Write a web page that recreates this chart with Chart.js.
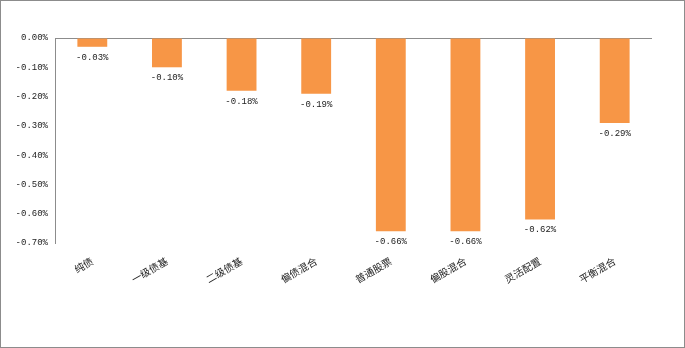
<!DOCTYPE html>
<html><head><meta charset="utf-8">
<script src="https://cdn.jsdelivr.net/npm/chart.js@4"></script>
<style>
html,body{margin:0;padding:0;background:#fff;}
#wrap{width:685px;height:348px;box-sizing:border-box;border:1px solid #8c8c8c;position:relative;}
canvas{display:block;}
</style></head>
<body><div id="wrap"><canvas id="c" width="683" height="346"></canvas></div>
<script>
const categories = ["纯债","一级债基","二级债基","偏债混合","普通股票","偏股混合","灵活配置","平衡混合"];
const values = [-0.03,-0.10,-0.18,-0.19,-0.66,-0.66,-0.62,-0.29];
const yTicks = [0,-0.1,-0.2,-0.3,-0.4,-0.5,-0.6,-0.7];

const numFont = {family:"'Liberation Mono','DejaVu Sans Mono',monospace", size:9};
const labelPlugin = {
  id:'vlabels',
  afterDatasetsDraw(chart){
    const ctx = chart.ctx;
    const meta = chart.getDatasetMeta(0);
    ctx.save();
    ctx.font = numFont.size+"px "+numFont.family;
    ctx.fillStyle = "#222";
    ctx.textAlign = "center";
    ctx.textBaseline = "top";
    meta.data.forEach((bar,i)=>{
      ctx.fillText(values[i].toFixed(2)+"%", bar.x, bar.y+6);
    });
    ctx.restore();
  }
};

new Chart(document.getElementById('c'), {
  type:'bar',
  data:{labels:categories, datasets:[{data:values, backgroundColor:'#F79646', barPercentage:0.4, categoryPercentage:1}]},
  options:{
    responsive:false, animation:false,
    layout:{padding:{top:37,right:32,left:0,bottom:0}},
    plugins:{legend:{display:false}, tooltip:{enabled:false}},
    scales:{
      x:{
        grid:{display:false}, border:{display:false},
        ticks:{minRotation:30,maxRotation:30,color:'#222',padding:4,
          font:{family:"'Noto Sans CJK SC',sans-serif",size:10}},
        afterFit(s){ s.height = 346-242; }
      },
      y:{
        min:-0.7, max:0,
        afterBuildTicks(s){ s.ticks = yTicks.map(v=>({value:v})); },
        grid:{drawTicks:false, color:(c)=> c.tick && c.tick.value===0 ? '#8c8c8c' : 'rgba(0,0,0,0)', lineWidth:1},
        border:{display:true,color:'#8c8c8c'},
        ticks:{color:'#222',padding:7,font:numFont, callback:(v)=>v.toFixed(2)+'%'},
        afterFit(s){ s.width = 54; }
      }
    }
  },
  plugins:[labelPlugin]
});
</script></body></html>
